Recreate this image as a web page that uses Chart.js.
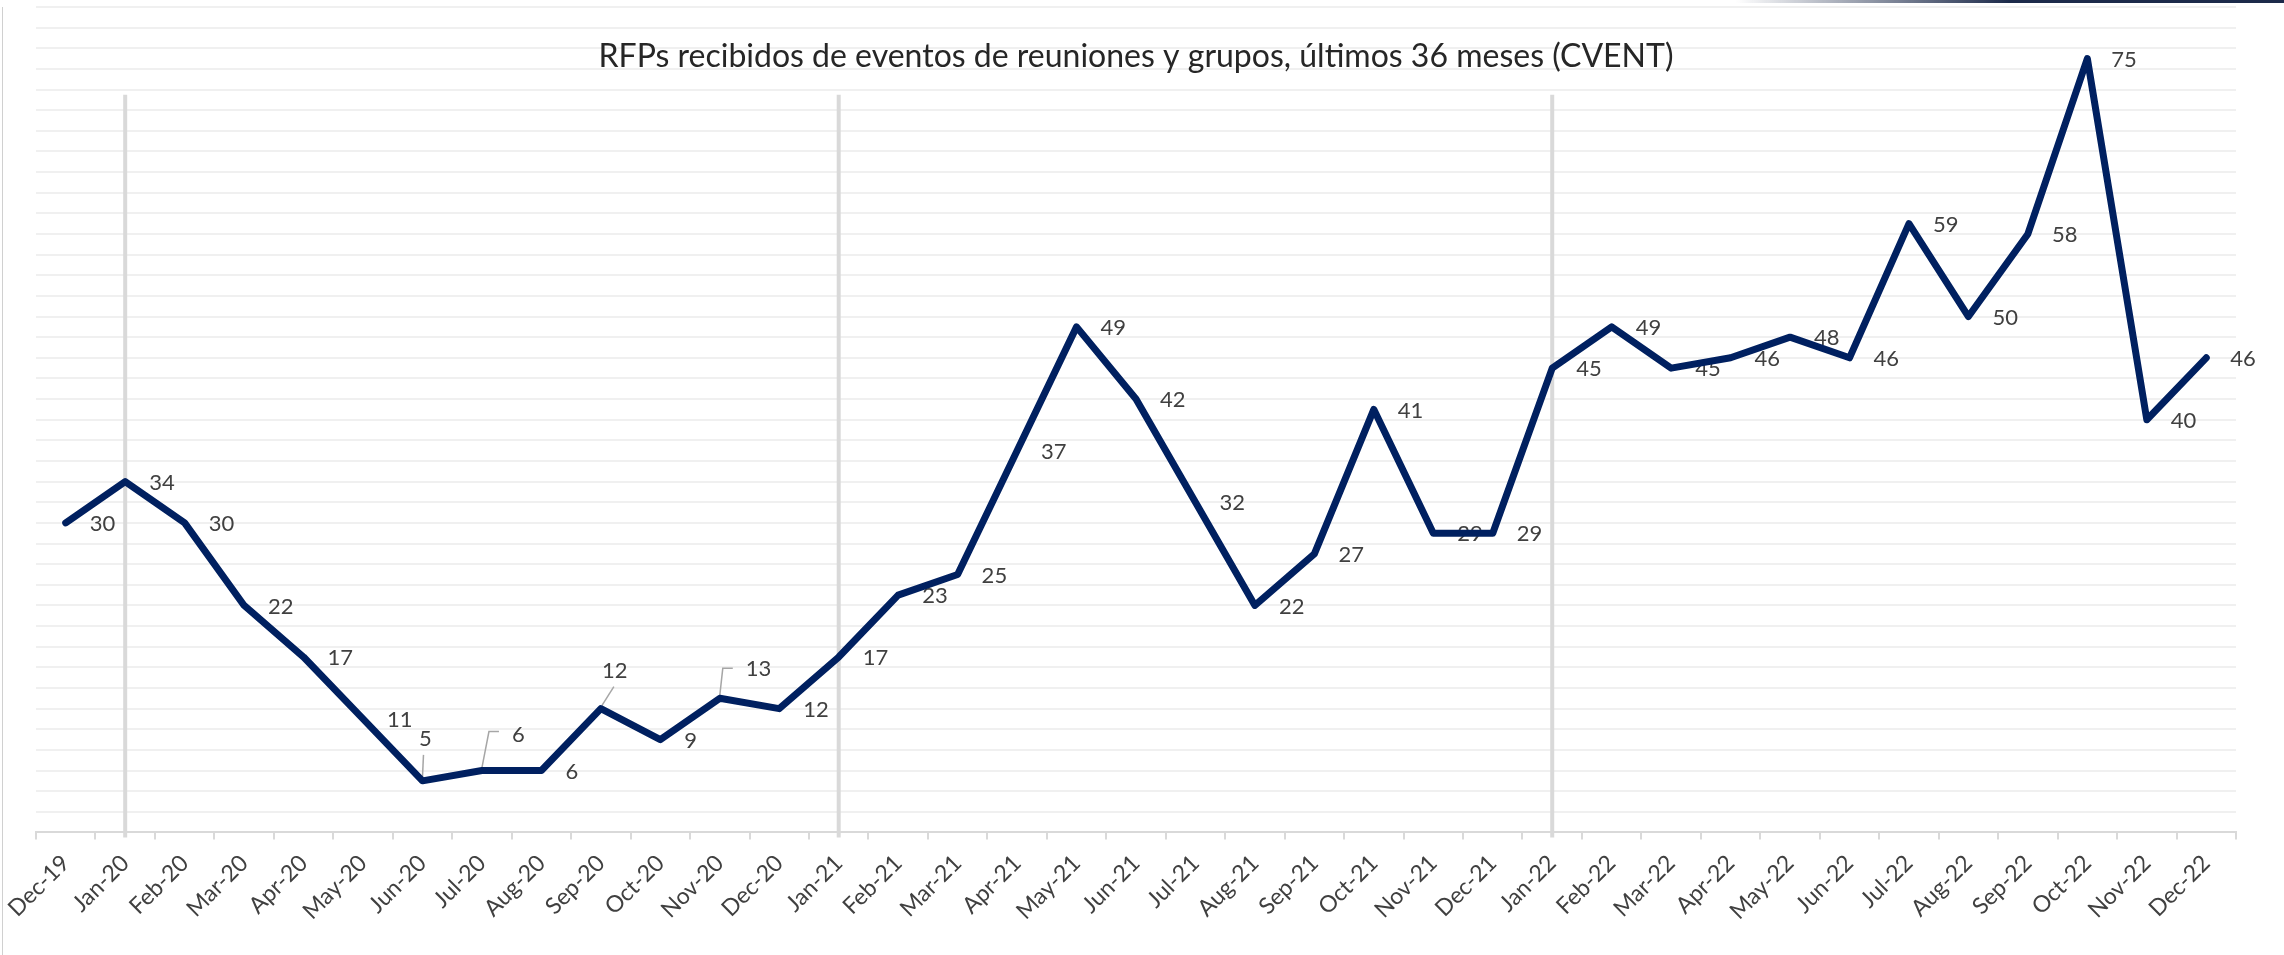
<!DOCTYPE html>
<html>
<head>
<meta charset="utf-8">
<title>RFPs recibidos - CVENT</title>
<script src="https://cdn.jsdelivr.net/npm/chart.js@4/dist/chart.umd.min.js"></script>
<style>
    body { margin: 0; background: #fff; }
    #wrap { position: relative; width: 2284px; height: 955px; }
    #frameLeft { position: absolute; left: 2px; top: 7px; width: 1px; bottom: 0; background: #d0d0d0; }
    #topBar { position: absolute; left: 0; top: 0; width: 100%; height: 3px;
        background: linear-gradient(to right, rgba(28,42,74,0) 0%, rgba(28,42,74,0) 76%, #1c2a4a 88%, #1c2a4a 100%); }
</style>
</head>
<body>
<div id="wrap">
    <canvas id="lineChart" width="2284" height="955"></canvas>
    <div id="frameLeft"></div>
    <div id="topBar"></div>
</div>
<script>
// data
const months = [
    "Dec-19", "Jan-20", "Feb-20", "Mar-20", "Apr-20", "May-20", "Jun-20",
    "Jul-20", "Aug-20", "Sep-20", "Oct-20", "Nov-20", "Dec-20",
    "Jan-21", "Feb-21", "Mar-21", "Apr-21", "May-21", "Jun-21",
    "Jul-21", "Aug-21", "Sep-21", "Oct-21", "Nov-21", "Dec-21",
    "Jan-22", "Feb-22", "Mar-22", "Apr-22", "May-22", "Jun-22",
    "Jul-22", "Aug-22", "Sep-22", "Oct-22", "Nov-22", "Dec-22"
];
const rfps = [
    30, 34, 30, 22, 17, 11, 5,
    6, 6, 12, 9, 13, 12,
    17, 23, 25, 37, 49, 42,
    32, 22, 27, 41, 29, 29,
    45, 49, 45, 46, 48, 46,
    59, 50, 58, 75, 40, 46
];
const yearMarks = ["Jan-20", "Jan-21", "Jan-22"];
const yMin = 0;
const yMax = 80;
const yStep = 2;
const chartTitle = "RFPs recibidos de eventos de reuniones y grupos, últimos 36 meses (CVENT)";

const FONT = "Lato, 'Open Sans', sans-serif";

// labels that Excel moved off the default spot (offsets from the point, px)
const labelMoves = {
    "Jun-20": { dx: 3, dy: -42, align: "center", leader: [[0, -4], [1, -26]] },
    "Jul-20": { dx: 30, dy: -36, align: "left", leader: [[0, -3], [7, -39], [17, -39]] },
    "Sep-20": { dx: 14, dy: -38, align: "center", leader: [[1, -3], [13, -22]] },
    "Nov-20": { dx: 26, dy: -29, align: "left", leader: [[0, -3], [3, -30], [13, -30]] }
};

const yearLinesPlugin = {
    id: "yearLines",
    beforeDatasetsDraw(chart) {
        const { ctx, scales: { x, y }, chartArea } = chart;
        ctx.save();
        ctx.strokeStyle = "#d9d9d9";
        ctx.lineWidth = 4;
        yearMarks.forEach(m => {
            const px = x.getPixelForValue(months.indexOf(m));
            ctx.beginPath();
            ctx.moveTo(px, y.getPixelForValue(71.5));
            ctx.lineTo(px, chartArea.bottom + 5);
            ctx.stroke();
        });
        ctx.restore();
    }
};

const valueLabelsPlugin = {
    id: "valueLabels",
    beforeDatasetsDraw(chart) {
        const { ctx } = chart;
        const meta = chart.getDatasetMeta(0);
        ctx.save();
        ctx.font = "22px " + FONT;
        ctx.fillStyle = "#404040";
        ctx.textBaseline = "middle";
        meta.data.forEach((pt, i) => {
            const mv = labelMoves[months[i]];
            if (mv) {
                ctx.strokeStyle = "#a6a6a6";
                ctx.lineWidth = 1.5;
                ctx.beginPath();
                mv.leader.forEach(([lx, ly], k) => {
                    if (k === 0) ctx.moveTo(pt.x + lx, pt.y + ly);
                    else ctx.lineTo(pt.x + lx, pt.y + ly);
                });
                ctx.stroke();
                ctx.textAlign = mv.align;
                ctx.fillText(String(rfps[i]), pt.x + mv.dx, pt.y + mv.dy);
            } else {
                ctx.textAlign = "left";
                ctx.fillText(String(rfps[i]), pt.x + 24, pt.y + 1);
            }
        });
        ctx.restore();
    }
};

const titlePlugin = {
    id: "overlayTitle",
    afterDraw(chart) {
        const { ctx, chartArea } = chart;
        ctx.save();
        ctx.font = "32px " + FONT;
        ctx.fillStyle = "#262626";
        ctx.textAlign = "center";
        ctx.textBaseline = "middle";
        ctx.fillText(chartTitle, (chartArea.left + chartArea.right) / 2, 57);
        ctx.restore();
    }
};

new Chart(document.getElementById("lineChart"), {
    type: "line",
    data: {
        labels: months,
        datasets: [{
            label: "RFPs",
            data: rfps,
            borderColor: "#002060",
            borderWidth: 7,
            borderJoinStyle: "round",
            borderCapStyle: "round",
            tension: 0,
            pointRadius: 0,
            fill: false
        }]
    },
    options: {
        responsive: false,
        animation: false,
        layout: { padding: { left: 36, right: 48, top: 7, bottom: 20 } },
        plugins: {
            legend: { display: false },
            tooltip: { enabled: false }
        },
        scales: {
            x: {
                offset: true,
                grid: {
                    offset: true,
                    drawOnChartArea: false,
                    color: "#d9d9d9",
                    lineWidth: 2,
                    tickLength: 7
                },
                border: { color: "#d9d9d9", width: 2 },
                ticks: {
                    autoSkip: false,
                    maxRotation: 45,
                    minRotation: 45,
                    padding: 10,
                    color: "#404040",
                    font: { family: FONT, size: 23 }
                }
            },
            y: {
                min: yMin,
                max: yMax,
                ticks: { display: false, stepSize: yStep },
                grid: { color: "#f0f0f0", lineWidth: 2, drawTicks: false },
                border: { display: false }
            }
        }
    },
    plugins: [yearLinesPlugin, valueLabelsPlugin, titlePlugin]
});
</script>
</body>
</html>
